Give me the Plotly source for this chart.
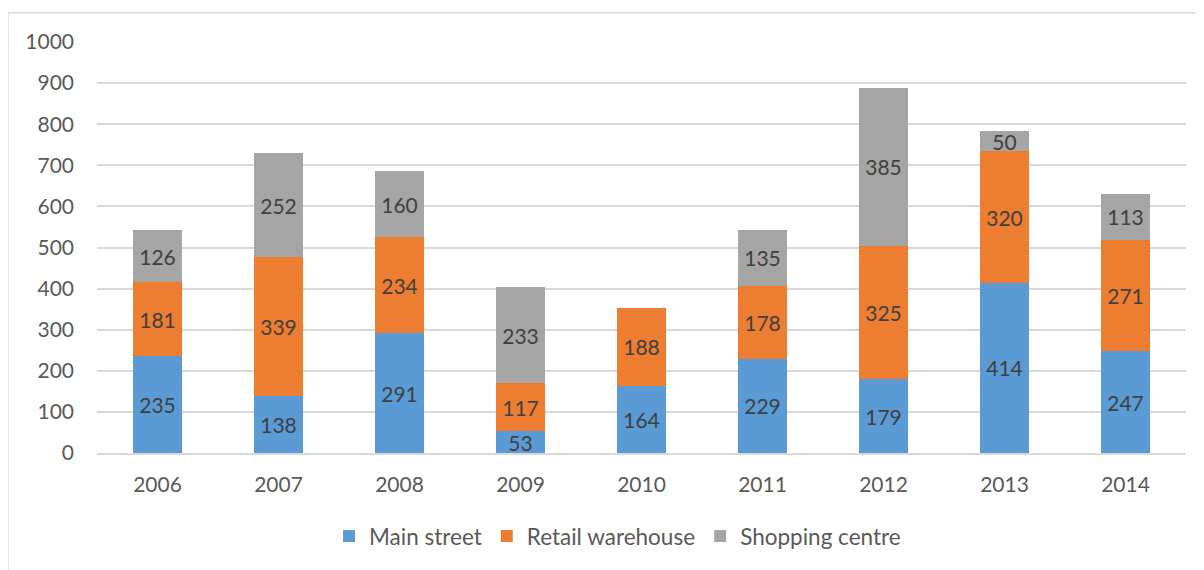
import plotly.graph_objects as go

years = ['2006', '2007', '2008', '2009', '2010', '2011', '2012', '2013', '2014']
main_street = [235, 138, 291, 53, 164, 229, 179, 414, 247]
retail_warehouse = [181, 339, 234, 117, 188, 178, 325, 320, 271]
shopping_centre = [126, 252, 160, 233, None, 135, 385, 50, 113]

series = [
    ('Main street', main_street, '#5B9BD5'),
    ('Retail warehouse', retail_warehouse, '#ED7D31'),
    ('Shopping centre', shopping_centre, '#A5A5A5'),
]

font_family = 'Lato, Open Sans, sans-serif'
grey_text = '#595959'

fig = go.Figure()
for name, vals, color in series:
    fig.add_trace(go.Bar(
        x=years, y=vals, name=name,
        marker=dict(color=color, line=dict(width=0)),
        text=[str(v) if v is not None else '' for v in vals],
        textposition='inside',
        insidetextanchor='middle',
        textangle=0,
        textfont=dict(color='#404040', size=21, family=font_family),
        cliponaxis=False,
    ))

# the page body adds an 8px margin, so the margins here are shifted by that
fig.update_layout(
    barmode='stack',
    bargap=0.6,
    width=1195, height=562,
    margin=dict(l=89, r=17, t=34, b=115),
    paper_bgcolor='white',
    plot_bgcolor='white',
    font=dict(family=font_family, color=grey_text, size=21),
    uniformtext=dict(minsize=21, mode='show'),
    legend=dict(
        orientation='h',
        x=0.478, xanchor='center',
        y=-0.203, yanchor='middle',
        font=dict(size=22.5, color=grey_text),
        itemwidth=30,
        traceorder='normal',
    ),
    showlegend=True,
)

fig.update_yaxes(
    range=[0, 1000], dtick=100,
    showgrid=True, gridcolor='#D9D9D9', gridwidth=1.5,
    zeroline=False, showline=False,
    ticklabelstandoff=22,
    tickfont=dict(size=21, color=grey_text),
)
fig.update_xaxes(
    showgrid=False, showline=True, linecolor='#D9D9D9', linewidth=1.5,
    ticks='', ticklabelstandoff=12,
    tickfont=dict(size=21, color=grey_text),
)

# light chart-area border (only top and left edges fall inside the picture)
fig.add_shape(type='rect', xref='paper', yref='paper',
              x0=-0.0817, x1=1.2, y0=-0.6, y1=1.0712,
              line=dict(color='#D9D9D9', width=1.5), layer='below')

fig.write_html('out.html')
